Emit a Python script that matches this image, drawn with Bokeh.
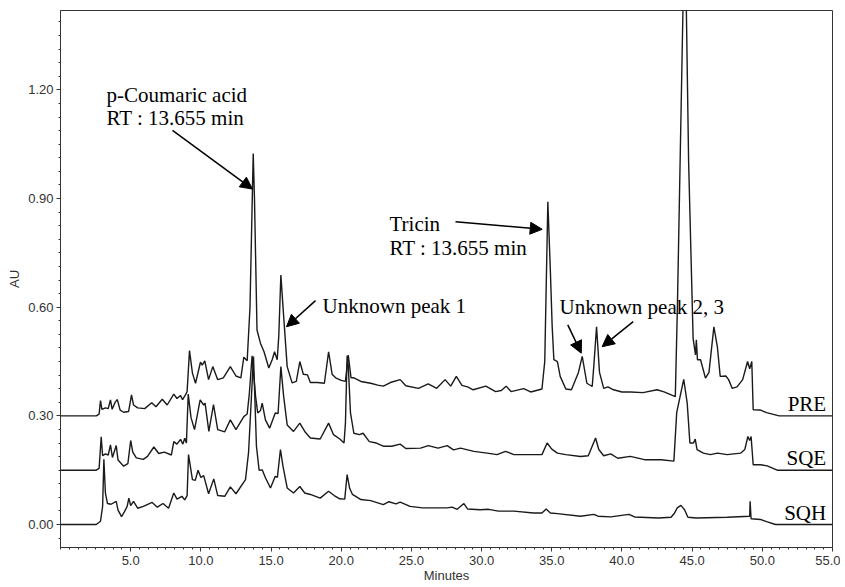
from bokeh.plotting import figure
from bokeh.models import Range1d, FixedTicker, PrintfTickFormatter, Label, Arrow, NormalHead
from bokeh.embed import file_html
from bokeh.resources import INLINE
import numpy as np

# ---------------- data ----------------
pre_t = [0.0, 2.55, 2.75, 2.85, 2.95, 3.2, 3.4, 3.56, 3.68, 3.9, 4.05, 4.25, 4.5, 4.85, 5.06, 5.2, 5.5, 6.0,
         6.5, 6.8, 7.25, 7.6, 8.07, 8.3, 8.55, 8.7, 8.9, 9.02, 9.19, 9.4, 9.62, 9.97, 10.1, 10.28, 10.55,
         10.85, 11.2, 11.6, 12.1, 12.5, 12.85, 13.06, 13.3, 13.5, 13.73, 13.82, 14.0, 14.25, 14.5, 14.84,
         15.08, 15.25, 15.44, 15.55, 15.7, 15.9, 16.15, 16.5, 16.8, 17.05, 17.3, 17.6, 17.8, 18.3, 18.8,
         19.1, 19.35, 19.6, 20.0, 20.3, 20.5, 20.7, 20.9, 21.4, 22.1, 22.6, 23.0, 23.5, 24.2, 24.6, 25.5,
         26.2, 26.8, 27.4, 27.8, 28.2, 28.6, 29.0, 29.4, 30.3, 31.0, 31.4, 31.75, 32.1, 33.0, 33.5, 34.3,
         34.5, 34.72, 34.9, 35.03, 35.15, 35.4, 35.6, 36.0, 36.4, 36.9, 37.17, 37.5, 37.88, 38.0, 38.19,
         38.4, 38.7, 39.0, 39.4, 40.0, 40.6, 41.5, 42.5, 43.0, 43.8, 43.95, 44.48, 44.75, 45.07, 45.24,
         45.3, 45.38, 45.6, 45.95, 46.2, 46.55, 46.8, 47.0, 47.4, 47.6, 47.85, 48.2, 48.6, 48.95, 49.1,
         49.25, 49.35, 49.87, 50.3, 51.2, 55.0]
pre_au = [0.300, 0.300, 0.305, 0.342, 0.318, 0.322, 0.320, 0.344, 0.318, 0.338, 0.345, 0.316, 0.310, 0.312,
          0.358, 0.330, 0.322, 0.320, 0.336, 0.325, 0.346, 0.330, 0.360, 0.348, 0.356, 0.345, 0.358, 0.367,
          0.480, 0.418, 0.390, 0.448, 0.440, 0.452, 0.400, 0.436, 0.400, 0.405, 0.436, 0.410, 0.405, 0.462,
          0.452, 0.600, 1.024, 0.900, 0.537, 0.500, 0.477, 0.432, 0.455, 0.477, 0.455, 0.520, 0.689, 0.574,
          0.436, 0.391, 0.395, 0.450, 0.415, 0.413, 0.392, 0.392, 0.390, 0.477, 0.415, 0.405, 0.398, 0.395,
          0.468, 0.405, 0.405, 0.395, 0.390, 0.385, 0.382, 0.392, 0.400, 0.383, 0.376, 0.388, 0.376, 0.400,
          0.382, 0.409, 0.384, 0.380, 0.372, 0.382, 0.367, 0.370, 0.382, 0.367, 0.375, 0.366, 0.374, 0.450,
          0.891, 0.700, 0.546, 0.455, 0.450, 0.409, 0.374, 0.372, 0.420, 0.464, 0.390, 0.381, 0.440, 0.546,
          0.420, 0.376, 0.380, 0.372, 0.366, 0.366, 0.364, 0.372, 0.366, 0.353, 0.600, 1.700, 1.000, 0.514,
          0.468, 0.510, 0.455, 0.455, 0.404, 0.420, 0.546, 0.490, 0.409, 0.410, 0.400, 0.376, 0.380, 0.400,
          0.450, 0.430, 0.450, 0.317, 0.316, 0.309, 0.300, 0.300]

sqe_t = [0.0, 2.55, 2.75, 2.9, 3.0, 3.2, 3.4, 3.56, 3.7, 3.97, 4.1, 4.5, 4.8, 5.0, 5.15, 5.4, 5.9, 6.2, 6.65,
         7.0, 7.4, 7.9, 8.07, 8.3, 8.55, 8.72, 8.85, 8.97, 9.1, 9.3, 9.55, 9.95, 10.2, 10.3, 10.57, 10.9,
         11.2, 11.7, 12.1, 12.5, 13.06, 13.3, 13.45, 13.65, 13.9, 14.05, 14.25, 14.37, 14.6, 14.9, 15.3,
         15.5, 15.7, 15.9, 16.15, 16.6, 17.05, 17.4, 17.8, 18.5, 19.1, 19.45, 19.9, 20.2, 20.3, 20.42, 20.5,
         20.66, 20.9, 21.3, 21.56, 22.0, 22.5, 23.03, 23.6, 24.2, 24.6, 25.65, 26.2, 26.9, 27.55, 28.0,
         28.5, 29.45, 30.4, 31.1, 31.7, 32.3, 33.7, 34.3, 34.67, 35.0, 35.4, 36.0, 37.05, 37.6, 38.12,
         38.35, 38.7, 39.2, 39.7, 40.6, 41.6, 42.8, 43.7, 43.9, 44.14, 44.4, 44.65, 44.84, 45.1, 45.22,
         45.35, 45.8, 46.3, 46.8, 47.5, 48.45, 48.75, 48.97, 49.1, 49.2, 49.35, 49.87, 50.35, 51.06, 55.0]
sqe_au = [0.150, 0.150, 0.155, 0.242, 0.190, 0.195, 0.192, 0.220, 0.185, 0.218, 0.178, 0.161, 0.168, 0.232,
          0.200, 0.184, 0.180, 0.188, 0.214, 0.196, 0.200, 0.192, 0.229, 0.222, 0.235, 0.222, 0.238, 0.225,
          0.360, 0.295, 0.262, 0.344, 0.330, 0.335, 0.257, 0.331, 0.262, 0.256, 0.289, 0.262, 0.298, 0.305,
          0.360, 0.466, 0.353, 0.308, 0.315, 0.335, 0.289, 0.266, 0.308, 0.306, 0.436, 0.353, 0.275, 0.257,
          0.280, 0.257, 0.239, 0.236, 0.280, 0.248, 0.236, 0.225, 0.280, 0.466, 0.440, 0.308, 0.252, 0.248,
          0.252, 0.229, 0.225, 0.216, 0.216, 0.222, 0.210, 0.211, 0.218, 0.211, 0.218, 0.206, 0.211, 0.202,
          0.197, 0.193, 0.202, 0.193, 0.193, 0.193, 0.225, 0.208, 0.197, 0.193, 0.188, 0.190, 0.239, 0.207,
          0.190, 0.195, 0.183, 0.188, 0.179, 0.179, 0.175, 0.309, 0.353, 0.401, 0.335, 0.225, 0.225, 0.236,
          0.207, 0.197, 0.193, 0.197, 0.193, 0.197, 0.207, 0.243, 0.232, 0.243, 0.165, 0.165, 0.162, 0.150,
          0.150]

sqh_t = [0.0, 2.55, 2.85, 3.0, 3.09, 3.2, 3.35, 3.6, 3.97, 4.1, 4.35, 4.55, 4.75, 4.87, 5.0, 5.2, 5.5, 5.9,
         6.53, 6.9, 7.3, 7.7, 8.07, 8.3, 8.65, 8.85, 9.02, 9.12, 9.4, 9.6, 9.8, 10.0, 10.2, 10.55, 10.92,
         11.2, 11.7, 12.1, 12.5, 13.18, 13.4, 13.75, 13.96, 14.15, 14.37, 14.6, 14.96, 15.3, 15.45, 15.67,
         15.85, 16.15, 16.6, 17.05, 17.4, 17.8, 18.5, 19.1, 19.5, 19.9, 20.25, 20.42, 20.6, 20.8, 21.4, 22.1,
         23.0, 23.4, 23.9, 24.2, 24.9, 25.8, 26.8, 27.55, 27.9, 28.26, 28.74, 29.0, 29.9, 30.5, 31.2, 32.3,
         33.7, 34.3, 34.6, 34.9, 35.4, 37.05, 38.0, 38.3, 39.2, 40.5, 40.9, 42.6, 43.5, 43.75, 43.94, 44.2,
         44.46, 44.7, 45.3, 47.5, 49.1, 49.13, 49.2, 49.87, 50.3, 50.94, 55.0]
sqh_au = [0.000, 0.000, 0.009, 0.050, 0.180, 0.087, 0.058, 0.056, 0.064, 0.040, 0.022, 0.035, 0.050, 0.073,
          0.052, 0.064, 0.045, 0.050, 0.061, 0.048, 0.058, 0.045, 0.087, 0.070, 0.078, 0.068, 0.080, 0.193,
          0.124, 0.122, 0.150, 0.130, 0.135, 0.085, 0.126, 0.080, 0.078, 0.104, 0.085, 0.124, 0.200, 0.464,
          0.216, 0.150, 0.151, 0.129, 0.101, 0.133, 0.130, 0.207, 0.161, 0.101, 0.087, 0.105, 0.087, 0.083,
          0.073, 0.092, 0.080, 0.071, 0.070, 0.138, 0.100, 0.083, 0.069, 0.066, 0.055, 0.063, 0.057, 0.062,
          0.050, 0.046, 0.046, 0.046, 0.048, 0.042, 0.058, 0.043, 0.041, 0.042, 0.037, 0.037, 0.032, 0.032,
          0.043, 0.032, 0.030, 0.023, 0.028, 0.023, 0.021, 0.028, 0.021, 0.018, 0.020, 0.032, 0.046, 0.053,
          0.041, 0.020, 0.018, 0.020, 0.023, 0.064, 0.016, 0.014, 0.008, 0.000, 0.000]

x_tick_values = [5, 10, 15, 20, 25, 30, 35, 40, 45, 50, 55]
y_tick_values = [0.0, 0.3, 0.6, 0.9, 1.2]

trace_names = ["PRE", "SQE", "SQH"]
trace_name_y = [0.333, 0.184, 0.032]

# annotation texts and anchor points (data units)
ann_lines = ["p-Coumaric acid", "RT : 13.655 min", "Tricin", "RT : 13.655 min", "Unknown peak 1", "Unknown peak 2, 3"]
ann_x = [3.28, 3.28, 23.44, 23.44, 18.67, 35.55]
ann_y = [1.187, 1.123, 0.830, 0.764, 0.604, 0.600]

arrow_x0 = [7.98, 28.14, 18.17, 36.14, 40.80]
arrow_y0 = [1.088, 0.836, 0.618, 0.551, 0.560]
arrow_x1 = [13.68, 34.32, 16.10, 37.10, 38.59]
arrow_y1 = [0.926, 0.815, 0.546, 0.473, 0.491]

# ---------------- figure ----------------
p = figure(width=840, height=585, output_backend="svg", toolbar_location=None,
           x_range=Range1d(0, 55), y_range=Range1d(-0.0634, 1.419),
           min_border_left=60, min_border_right=8, min_border_top=10, min_border_bottom=37)
p.background_fill_color = "white"
p.border_fill_color = "white"
p.outline_line_color = "#333333"
p.outline_line_width = 1
p.xgrid.visible = False
p.ygrid.visible = False

x_minor = list(np.arange(0, 55.001, 0.625))
y_minor = list(np.arange(-0.0375, 1.42, 0.0375))
p.xaxis.ticker = FixedTicker(ticks=x_tick_values, minor_ticks=x_minor)
p.yaxis.ticker = FixedTicker(ticks=y_tick_values, minor_ticks=y_minor)
p.xaxis.formatter = PrintfTickFormatter(format="%.1f")
p.yaxis.formatter = PrintfTickFormatter(format="%.2f")
p.xaxis.axis_label = "Minutes"
p.yaxis.axis_label = "AU"

for ax in (p.xaxis, p.yaxis):
    ax.axis_line_color = "#333333"
    ax.major_tick_line_color = "#333333"
    ax.minor_tick_line_color = "#333333"
    ax.major_tick_in = 0
    ax.major_tick_out = 4
    ax.minor_tick_in = 0
    ax.minor_tick_out = 2
    ax.major_label_text_font = "Liberation Sans"
    ax.major_label_text_font_size = "13px"
    ax.major_label_text_color = "#333333"
    ax.axis_label_text_font = "Liberation Sans"
    ax.axis_label_text_font_size = "13px"
    ax.axis_label_text_font_style = "normal"
    ax.axis_label_text_color = "#333333"
    ax.major_label_standoff = 4
    ax.axis_label_standoff = 0
p.yaxis.major_label_standoff = 3
p.yaxis.axis_label_standoff = 3

line_color = "#1a1a1a"
p.line(pre_t, pre_au, line_color=line_color, line_width=1.4)
p.line(sqe_t, sqe_au, line_color=line_color, line_width=1.4)
p.line(sqh_t, sqh_au, line_color=line_color, line_width=1.4)

serif = "Liberation Serif"
for txt, xx, yy in zip(ann_lines, ann_x, ann_y):
    p.add_layout(Label(x=xx, y=yy, text=txt, text_font=serif, text_font_size="21px",
                       text_color="black", text_baseline="alphabetic", text_align="left"))

for name, yy in zip(trace_names, trace_name_y):
    p.add_layout(Label(x=54.55, y=yy, text=name, text_font=serif, text_font_size="21px",
                       text_color="black", text_baseline="alphabetic", text_align="right"))

for x0, y0, x1, y1 in zip(arrow_x0, arrow_y0, arrow_x1, arrow_y1):
    p.add_layout(Arrow(end=NormalHead(size=12, fill_color="black", line_color="black"),
                       x_start=x0, y_start=y0, x_end=x1, y_end=y1,
                       line_color="black", line_width=1.5))

open("out.html", "w").write(file_html(p, INLINE))
